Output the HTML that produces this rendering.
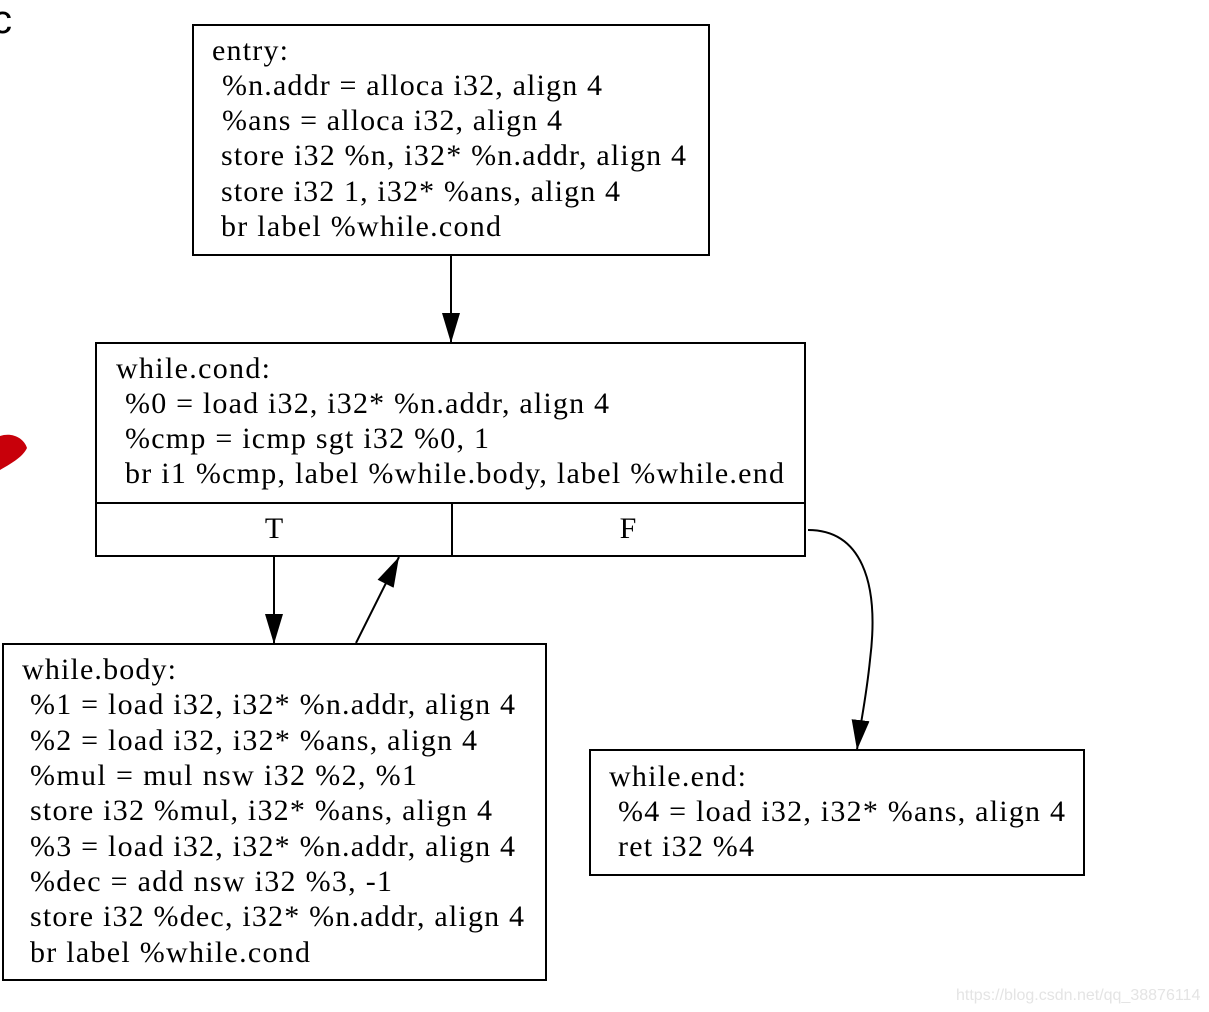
<!DOCTYPE html>
<html><head><meta charset="utf-8"><style>
html,body{margin:0;padding:0;background:#fff;width:1209px;height:1012px;overflow:hidden}
text{font-family:"Liberation Serif",serif;font-size:30px;fill:#000}
</style></head><body>
<svg width="1209" height="1012" viewBox="0 0 1209 1012" xmlns="http://www.w3.org/2000/svg">
<defs>
<marker id="b" markerWidth="30" markerHeight="18" refX="30" refY="9" orient="auto" markerUnits="userSpaceOnUse" viewBox="0 0 30 18"><path d="M0,0 L30,9 L0,18 z" fill="#000"/></marker></defs>
<text x="-8" y="33" style="font-family:'Liberation Sans',sans-serif;font-size:40px">c</text>
<path d="M0,436 C12,432 24,438 27,448 C22,458 10,464 0,470 z" fill="#c8000a"/>
<g fill="none" stroke="#000" stroke-width="2">
<rect x="193" y="25" width="516" height="230"/>
<rect x="96" y="343" width="709" height="213"/>
<line x1="96" y1="503" x2="805" y2="503"/>
<line x1="452" y1="503" x2="452" y2="556"/>
<rect x="3" y="644" width="543" height="336"/>
<rect x="590" y="750" width="494" height="125"/>
<line x1="451" y1="255" x2="451" y2="343" marker-end="url(#b)"/>
<line x1="274" y1="556" x2="274" y2="644" marker-end="url(#b)"/>
<line x1="356" y1="643" x2="399" y2="557" marker-end="url(#b)"/>
<path d="M808,530 C860,530 880,580 870,660 C866,700 860,725 857,750" marker-end="url(#b)"/>
</g>
<g lengthAdjust="spacingAndGlyphs">
<text x="212" y="60" textLength="76">entry:</text>
<text x="222" y="95" textLength="380">%n.addr = alloca i32, align 4</text>
<text x="222" y="130" textLength="340">%ans = alloca i32, align 4</text>
<text x="221" y="165" textLength="465">store i32 %n, i32* %n.addr, align 4</text>
<text x="221" y="201" textLength="399">store i32 1, i32* %ans, align 4</text>
<text x="221" y="236" textLength="280">br label %while.cond</text>
<text x="116" y="378" textLength="154">while.cond:</text>
<text x="125" y="413" textLength="484">%0 = load i32, i32* %n.addr, align 4</text>
<text x="125" y="448" textLength="364">%cmp = icmp sgt i32 %0, 1</text>
<text x="125" y="483" textLength="659">br i1 %cmp, label %while.body, label %while.end</text>
<text x="274" y="538" text-anchor="middle">T</text>
<text x="628" y="538" text-anchor="middle">F</text>
<text x="22" y="679" textLength="154">while.body:</text>
<text x="30" y="714" textLength="485">%1 = load i32, i32* %n.addr, align 4</text>
<text x="30" y="750" textLength="447">%2 = load i32, i32* %ans, align 4</text>
<text x="30" y="785" textLength="387">%mul = mul nsw i32 %2, %1</text>
<text x="30" y="820" textLength="462">store i32 %mul, i32* %ans, align 4</text>
<text x="30" y="856" textLength="485">%3 = load i32, i32* %n.addr, align 4</text>
<text x="30" y="891" textLength="362">%dec = add nsw i32 %3, -1</text>
<text x="30" y="926" textLength="494">store i32 %dec, i32* %n.addr, align 4</text>
<text x="30" y="962" textLength="280">br label %while.cond</text>
<text x="609" y="786" textLength="137">while.end:</text>
<text x="618" y="821" textLength="447">%4 = load i32, i32* %ans, align 4</text>
<text x="618" y="856" textLength="136">ret i32 %4</text>
</g>
<text x="956" y="1000" style="font-family:'Liberation Sans',sans-serif;font-size:16px;fill:#e4e4e4">https://blog.csdn.net/qq_38876114</text>
</svg>
</body></html>
